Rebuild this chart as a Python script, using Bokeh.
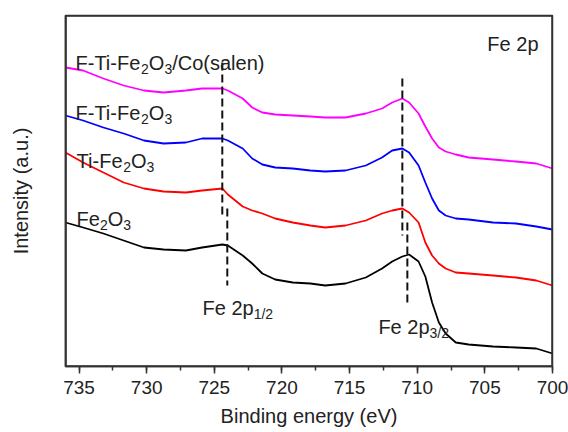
from bokeh.plotting import figure
from bokeh.models import Range1d, SingleIntervalTicker, FixedTicker, ColumnDataSource, BoxAnnotation
from bokeh.core.properties import value
from bokeh.embed import file_html
from bokeh.resources import INLINE

# ---------------- data ----------------
energy = [736, 734.7, 733.2, 731.7, 730.2, 728.75, 727.1, 725.9, 724.4, 724.0,
          722.9, 722.2, 721.45, 720.5, 719.2, 717.9, 716.8, 715.3, 713.8, 712.6,
          711.85, 711.1, 710.6, 709.9, 709.4, 708.9, 708.4, 707.9, 707.15, 706.2,
          704.4, 702.7, 701.2, 700]

fe2o3 = [144, 139, 133, 126, 119, 117, 116, 119, 122, 121,
         111, 103, 93, 87, 84, 83, 81, 83, 89, 98,
         105, 110, 112, 105, 90, 64, 44, 33, 24, 22,
         20, 19, 18, 13]
ti_fe2o3 = [214, 204, 194, 184, 178, 175, 174, 176, 178, 172,
            160, 156, 153, 148, 144, 141, 139, 141, 146, 153,
            156, 158, 154, 144, 124, 111, 103, 98, 94, 93,
            91, 89, 86, 81]
f_ti_fe2o3 = [251, 246, 239, 233, 226, 223, 224, 228, 228, 226,
              218, 208, 202, 199, 198, 196, 195, 196, 201, 209,
              216, 218, 214, 201, 184, 168, 156, 151, 148, 147,
              144, 143, 140, 137]
f_ti_co = [299, 296, 288, 281, 276, 274, 276, 278, 278, 276,
           268, 259, 254, 252, 251, 250, 249, 249, 253, 258,
           264, 268, 264, 253, 240, 228, 219, 215, 212, 209,
           207, 205, 203, 198]

series_colors = ["#000000", "#ff0000", "#0000ff", "#ff00ff"]

# dashed peak markers (energy, y_top, y_bottom)
peak_x = [724.41, 724.04, 711.1, 710.73]
peak_y0 = [304, 158, 288, 144]
peak_y1 = [148, 81, 131, 64]

# label pieces: (text, is_subscript)
curve_labels = [
    (735.26, 304, [("F-Ti-Fe", 0), ("2", 1), ("O", 0), ("3", 1), ("/Co(salen)", 0)]),
    (735.26, 254, [("F-Ti-Fe", 0), ("2", 1), ("O", 0), ("3", 1)]),
    (735.18, 206, [("Ti-Fe", 0), ("2", 1), ("O", 0), ("3", 1)]),
    (735.18, 148, [("Fe", 0), ("2", 1), ("O", 0), ("3", 1)]),
    (725.87, 59, [("Fe 2p", 0), ("1/2", 1)]),
    (712.87, 40, [("Fe 2p", 0), ("3/2", 1)]),
]
corner_label = "Fe 2p"

# ---------------- figure ----------------
FONT = "Liberation Sans"
MAIN = 20
SUB = 14
AX = "#333333"

p = figure(width=568, height=432, output_backend="svg", toolbar_location=None,
           x_range=Range1d(736, 700), y_range=Range1d(0, 351),
           min_border_left=65, min_border_right=16, min_border_top=15,
           min_border_bottom=66)
p.background_fill_color = "white"
p.border_fill_color = "white"
p.grid.visible = False
p.outline_line_color = AX
p.outline_line_width = 1.5

xa = p.xaxis[0]
xa.ticker = SingleIntervalTicker(interval=5, num_minor_ticks=2)
xa.axis_label = "Binding energy (eV)"
xa.axis_label_text_font = FONT
xa.axis_label_text_font_size = "20px"
xa.axis_label_text_font_style = "normal"
xa.axis_label_text_color = "#222222"
xa.axis_label_standoff = 8
xa.major_label_text_font = FONT
xa.major_label_text_font_size = "19px"
xa.major_label_text_color = "#222222"
xa.major_label_standoff = 7
xa.major_tick_out = 7
xa.major_tick_in = 0
xa.minor_tick_out = 4
xa.minor_tick_in = 0
xa.axis_line_color = AX
xa.axis_line_width = 1.5
xa.major_tick_line_color = AX
xa.major_tick_line_width = 1.5
xa.minor_tick_line_color = AX
xa.minor_tick_line_width = 1.5

ya = p.yaxis[0]
ya.ticker = FixedTicker(ticks=[])
ya.axis_label = "Intensity (a.u.)"
ya.axis_label_text_font = FONT
ya.axis_label_text_font_size = "20px"
ya.axis_label_text_font_style = "normal"
ya.axis_label_text_color = "#222222"
ya.axis_label_standoff = 34
ya.axis_line_color = AX
ya.axis_line_width = 1.5
ya.major_tick_line_color = None
ya.minor_tick_line_color = None

# frame box (top and right edges)
p.add_layout(BoxAnnotation(left=736, right=700, bottom=0, top=351, fill_alpha=0,
                           line_color=AX, line_width=2.5, line_alpha=1.0))

for ys, col in zip([fe2o3, ti_fe2o3, f_ti_fe2o3, f_ti_co], series_colors):
    p.line(energy, ys, line_color=col, line_width=1.8)

p.segment(x0=peak_x, y0=peak_y0, x1=peak_x, y1=peak_y1,
          line_color="#111111", line_width=2, line_dash="8 4")

# character widths (Arial / Liberation Sans metrics, per 1000 em)
W = {"F": 611, "-": 333, "T": 611, "i": 222, "e": 556, "O": 778, "/": 278, "C": 722,
     "o": 556, "(": 333, "s": 500, "a": 556, "l": 222, "n": 556, ")": 333, " ": 278,
     "p": 556}


def text_width(s, size):
    return sum(W.get(c, 556) for c in s) * size / 1000.0


xs, ys_, txt, xo, yo, fs = [], [], [], [], [], []
for lx, ly, pieces in curve_labels:
    off = 0.0
    for s, sub in pieces:
        size = SUB if sub else MAIN
        xs.append(lx)
        ys_.append(ly)
        txt.append(s)
        xo.append(off)
        yo.append(6 if sub else 0)
        fs.append(f"{size}px")
        off += text_width(s, size)

src = ColumnDataSource(dict(x=xs, y=ys_, text=txt, xo=xo, yo=yo, fs=fs))
p.text(x="x", y="y", text="text", x_offset="xo", y_offset="yo", text_font_size="fs",
       source=src, text_font=value(FONT), text_color="#222222",
       text_align="left", text_baseline="alphabetic")

p.text(x=[700], y=[323], text=[corner_label], x_offset=[-14], text_font=value(FONT),
       text_font_size="20px", text_color="#222222", text_align="right",
       text_baseline="alphabetic")

open("out.html", "w").write(file_html(p, INLINE))
